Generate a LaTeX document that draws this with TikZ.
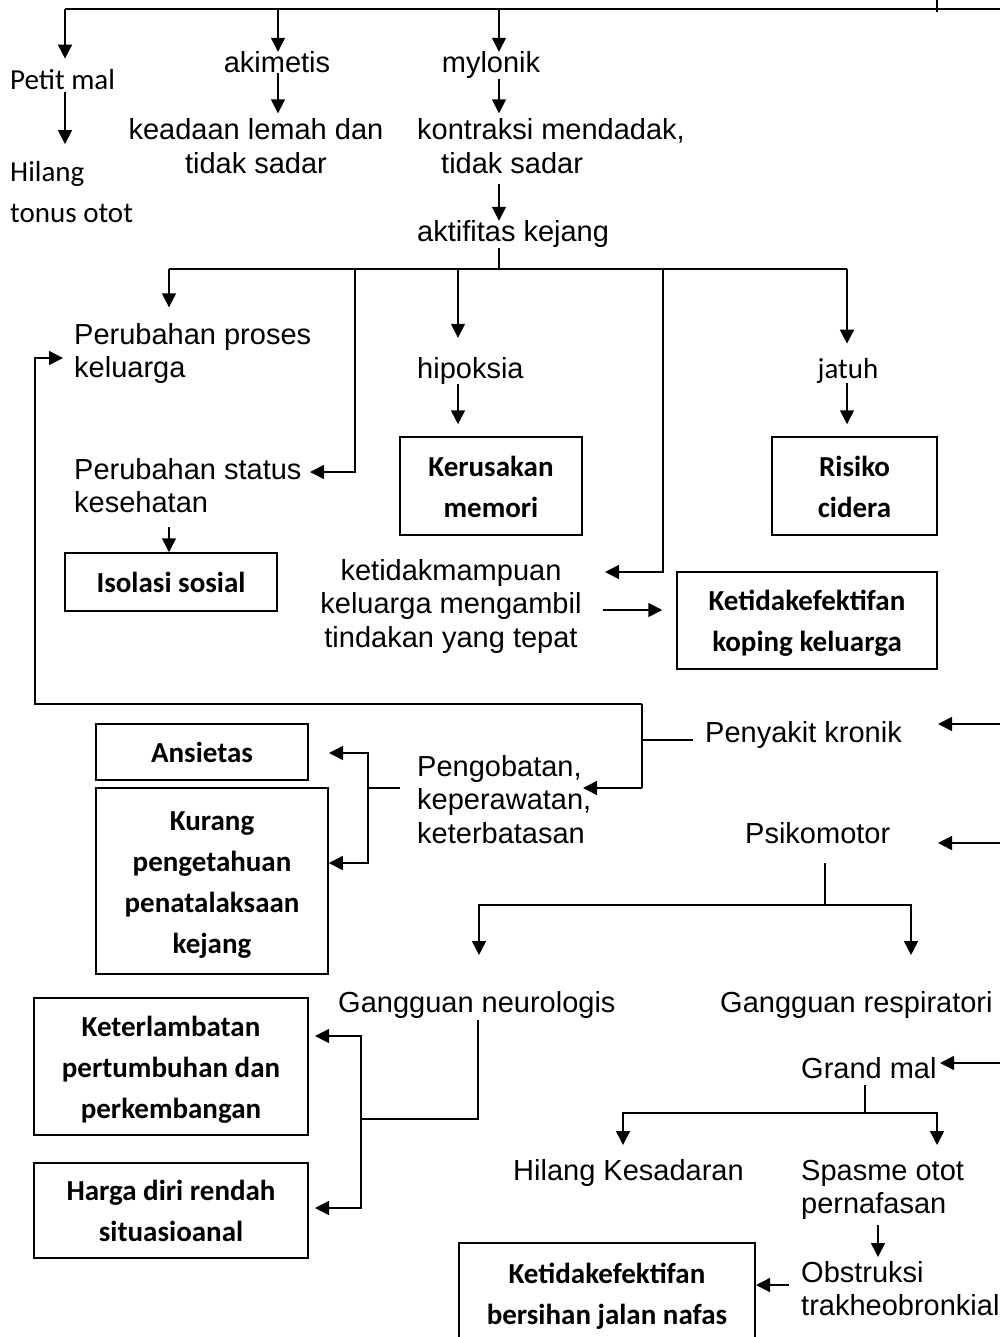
\documentclass[tikz,border=0pt]{standalone}
\usepackage{fontspec}
\setmainfont{Liberation Sans}
\newfontfamily\calfont{Carlito}
\usetikzlibrary{arrows.meta}
\newcommand{\txtA}{\fontsize{29}{33.5}\selectfont}
\newcommand{\txtC}{\calfont\fontsize{29}{41}\selectfont}
\newcommand{\txtB}{\calfont\bfseries\fontsize{29}{41}\selectfont}
\newcommand{\ml}[2]{\begin{tabular}[t]{@{}#1@{}}#2\end{tabular}}
\newcommand{\bl}[1]{\raisebox{-2.5pt}[\height][\depth]{\begin{tabular}{@{}c@{}}#1\end{tabular}}}
\begin{document}
\begin{tikzpicture}[x=1pt,y=-1pt,
  ln/.style={line width=1.5pt},
  arr/.style={ln,-{Triangle[length=14pt,width=14pt]}},
  ta/.style={inner sep=0pt,font=\txtA},
  tc/.style={inner sep=0pt,font=\txtC},
  bx/.style={draw,line width=1.5pt,inner sep=0pt,font=\txtB}]
\useasboundingbox[fill=white] (0,0) rectangle (999,1337);

% ---------- text nodes ----------
\node[tc,anchor=base west] (petit) at (10,90) {Petit mal};
\node[tc,anchor=base west] (hilang) at (10,182) {\ml{l}{Hilang\\tonus otot}};
\node[ta,anchor=base] (akim) at (277,73) {akimetis};
\node[ta,anchor=base] (keadaan) at (256,140) {\ml{c}{keadaan lemah dan\\tidak sadar}};
\node[ta,anchor=base] (mylo) at (491,73) {mylonik};
\node[ta,anchor=base west] (kontr) at (417,140) {\ml{l}{kontraksi mendadak,\\\hspace*{24pt}tidak sadar}};
\node[ta,anchor=base west] (aktif) at (417,242) {aktifitas kejang};
\node[ta,anchor=base west] (pproses) at (74,344) {\ml{l}{Perubahan proses\\keluarga}};
\node[ta,anchor=base west] (hipo) at (417,378) {hipoksia};
\node[tc,anchor=base] (jatuh) at (848,378) {jatuh};
\node[ta,anchor=base west] (pstatus) at (74,479) {\ml{l}{Perubahan status\\kesehatan}};
\node[ta,anchor=base] (ketid) at (451,580) {\ml{c}{ketidakmampuan\\keluarga mengambil\\tindakan yang tepat}};
\node[ta,anchor=base west] (kronik) at (705,742) {Penyakit kronik};
\node[ta,anchor=base west] (pengob) at (417,776) {\ml{l}{Pengobatan,\\keperawatan,\\keterbatasan}};
\node[ta,anchor=base west] (psiko) at (745,843) {Psikomotor};
\node[ta,anchor=base west] (neuro) at (338,1012) {Gangguan neurologis};
\node[ta,anchor=base west] (resp) at (720,1012) {Gangguan respiratori};
\node[ta,anchor=base west] (grand) at (801,1078) {Grand mal};
\node[ta,anchor=base west] (hkes) at (513,1180) {Hilang Kesadaran};
\node[ta,anchor=base west] (spasme) at (801,1180) {\ml{l}{Spasme otot\\pernafasan}};
\node[ta,anchor=base west] (obstr) at (801,1282) {\ml{l}{Obstruksi\\trakheobronkial}};

% ---------- boxes ----------
\node[bx,minimum width=182pt,minimum height=98pt] (kerus) at (491,486) {\bl{Kerusakan\\memori}};
\node[bx,minimum width=165pt,minimum height=98pt] (risiko) at (854.5,486) {\bl{Risiko\\cidera}};
\node[bx,minimum width=212pt,minimum height=58pt] (isol) at (171,582) {\bl{Isolasi sosial}};
\node[bx,minimum width=260pt,minimum height=97pt] (koping) at (807,620.5) {\bl{Ketidakefektifan\\koping keluarga}};
\node[bx,minimum width=212pt,minimum height=56pt] (ansi) at (202,752) {\bl{Ansietas}};
\node[bx,minimum width=232pt,minimum height=186pt] (kurang) at (212,881) {\bl{Kurang\\pengetahuan\\penatalaksaan\\kejang}};
\node[bx,minimum width=274pt,minimum height=137pt] (keterl) at (171,1066.5) {\bl{Keterlambatan\\pertumbuhan dan\\perkembangan}};
\node[bx,minimum width=274pt,minimum height=95pt] (harga) at (171,1210.5) {\bl{Harga diri rendah\\situasioanal}};
\node[bx,minimum width=296pt,minimum height=100pt] (bersih) at (607,1293) {\bl{Ketidakefektifan\\bersihan jalan nafas}};

% ---------- connectors ----------
\draw[ln] (65,9) -- (1010,9);
\draw[ln] (937,-5) -- (937,12);
\draw[arr,shorten >=11pt] (65,9) -- (65,0 |- petit.north);
\draw[arr] (278,9) -- (278,0 |- akim.north);
\draw[arr] (499,9) -- (499,0 |- mylo.north);
\draw[arr,shorten <=2pt,shorten >=9pt] (65,0 |- petit.south) -- (65,0 |- hilang.north);
\draw[arr,shorten >=3pt] (278,0 |- akim.south) -- (278,0 |- keadaan.north);
\draw[arr,shorten >=3pt] (499,0 |- mylo.south) -- (499,0 |- kontr.north);
\draw[arr] (499,0 |- kontr.south) -- (499,0 |- aktif.north);
\draw[ln] (499,0 |- aktif.south) -- (499,269);
\draw[ln] (169,269) -- (847,269);
\draw[arr,shorten >=13pt] (169,269) -- (169,0 |- pproses.north);
\draw[arr] (355,269) |- (310,472);
\draw[arr,shorten >=19pt] (458,269) -- (458,0 |- hipo.north);
\draw[arr] (663,269) |- (605,572);
\draw[arr,shorten >=14pt] (847,269) -- (847,0 |- jatuh.north);
\draw[arr,shorten >=12pt] (458,0 |- hipo.south) -- (458,0 |- kerus.north);
\draw[arr,shorten >=12pt] (847,0 |- jatuh.south) -- (847,0 |- risiko.north);
\draw[arr,shorten <=4pt] (169,0 |- pstatus.south) -- (169,0 |- isol.north);
\draw[arr,shorten >=14pt] (603,610) -- (koping.west |- 0,610);
% Penyakit kronik
\draw[ln] (693,740) -- (642,740);
\draw[ln] (642,704) -- (642,788);
\draw[arr] (642,788) -- (583,788);
\draw[arr] (642,704) -- (35,704) -- (35,358) -- (63,358);
\draw[arr] (1010,724) -- (938,724);
\draw[arr] (1010,843) -- (938,843);
% Pengobatan
\draw[arr] (400,788) -- (368,788) |- (329,753);
\draw[arr] (368,788) |- (kurang.east |- 0,863);
% Psikomotor
\draw[ln] (825,863) -- (825,905);
\draw[arr] (825,905) -| (479,955);
\draw[arr] (825,905) -| (911,955);
% neurologis
\draw[ln] (478,1020) -- (478,1119) -- (361,1119);
\draw[arr] (361,1119) |- (315,1036);
\draw[arr] (361,1119) |- (315,1208);
% Grand mal
\draw[arr] (1010,1063) -- (940,1063);
\draw[ln] (865,1085) -- (865,1113);
\draw[arr] (865,1113) -| (623,1145);
\draw[arr] (865,1113) -| (937,1145);
\draw[arr] (878,1225) -- (878,1257);
\draw[arr] (789,1285) -- (756,1285);
\end{tikzpicture}
\end{document}
